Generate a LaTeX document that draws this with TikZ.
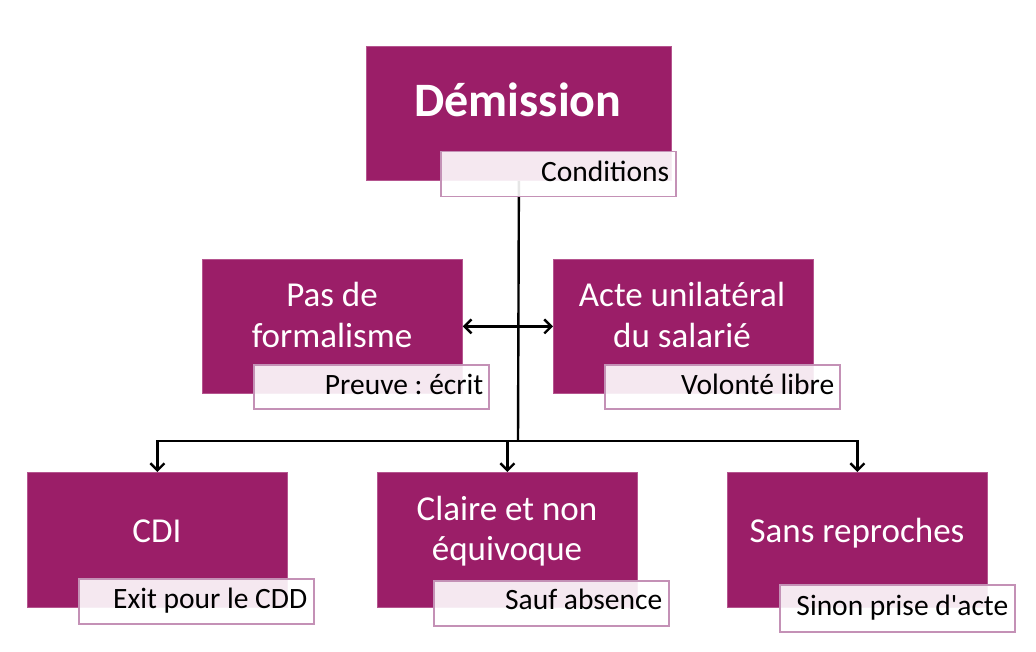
\documentclass[tikz,border=0pt]{standalone}
\usepackage{fontspec}
\setmainfont{Carlito}
\usetikzlibrary{arrows.meta,calc}
\definecolor{berry}{HTML}{9B1E68}
\definecolor{berryline}{HTML}{B5558F}
\definecolor{lblline}{HTML}{C491B6}
\frenchspacing
\tikzset{
  mainbox/.style={draw=berryline, line width=0.8pt, fill=berry, minimum width=260pt, minimum height=134pt, inner sep=0pt, anchor=north west},
  lblbox/.style={draw=lblline, line width=1.5pt, fill=white, fill opacity=0.9, minimum width=235pt, minimum height=45pt, inner sep=0pt, anchor=north west},
  boxtext/.style={text=white, font=\fontsize{35}{40}\selectfont, align=center, anchor=base, inner sep=0pt},
  lbltext/.style={text=black, font=\fontsize{29.5}{34}\selectfont, anchor=base east, inner sep=0pt},
  conn/.style={line width=2.4pt, draw=black},
  tip/.style={-{Straight Barb[length=7pt,width=14pt]}},
  dtip/.style={{Straight Barb[length=7pt,width=14pt]}-{Straight Barb[length=7pt,width=14pt]}}
}
\begin{document}
\begin{tikzpicture}[x=1pt,y=-1pt]
\useasboundingbox[fill=white] (0,0) rectangle (1036,652);
% main boxes
\node[mainbox, minimum width=305pt] (dem) at (366,46) {};
\node[mainbox] (pas) at (202,259) {};
\node[mainbox] (acte) at (553,259) {};
\node[mainbox, minimum height=135pt] (cdi) at (27,472) {};
\node[mainbox, minimum height=135pt] (claire) at (377,472) {};
\node[mainbox, minimum height=135pt] (sans) at (727,472) {};
% connectors
\coordinate (j) at (518,441);
\draw[conn] (dem.south) -- (j);
\draw[conn,tip] (j) -| (cdi.north);
\draw[conn,tip] (j) -| (sans.north);
\draw[conn,tip] (claire.north |- j) -- (claire.north);
\draw[conn,dtip] (pas.east) -- (acte.west);
% label boxes
\node[lblbox] (demL) at (440,151) {};
\node[lblbox, minimum height=44pt] (pasL) at (253,364) {};
\node[lblbox, minimum height=44pt] (acteL) at (604,364) {};
\node[lblbox] (cdiL) at (78,578) {};
\node[lblbox] (claireL) at (433,580) {};
\node[lblbox, minimum height=47pt] (sansL) at (779,584) {};
% box texts
\node[text=white, font=\fontsize{48}{56}\selectfont\bfseries, anchor=base, inner sep=0pt] (demT) at (518,117) {Démission};
\node[boxtext] (pasT) at (332,347) {Pas de\\formalisme};
\node[boxtext] (acteT) at (682,347) {Acte unilatéral\\du salarié};
\node[boxtext] (cdiT) at (157,542) {CDI};
\node[boxtext] (claireT) at (507,560) {Claire et non\\équivoque};
\node[boxtext] (sansT) at (857,542) {Sans reproches};
% label texts
\node[lbltext] (demLT) at ($(demL.south east)+(-7,-16)$) {Conditions};
\node[lbltext] (pasLT) at ($(pasL.south east)+(-6,-15)$) {Preuve : écrit};
\node[lbltext] (acteLT) at ($(acteL.south east)+(-6,-15)$) {Volonté libre};
\node[lbltext] (cdiLT) at ($(cdiL.south east)+(-7,-16)$) {Exit pour le CDD};
\node[lbltext] (claireLT) at ($(claireL.south east)+(-7,-17)$) {Sauf absence};
\node[lbltext] (sansLT) at ($(sansL.south east)+(-7,-17)$) {Sinon prise d\textquotesingle acte};
\end{tikzpicture}
\end{document}
